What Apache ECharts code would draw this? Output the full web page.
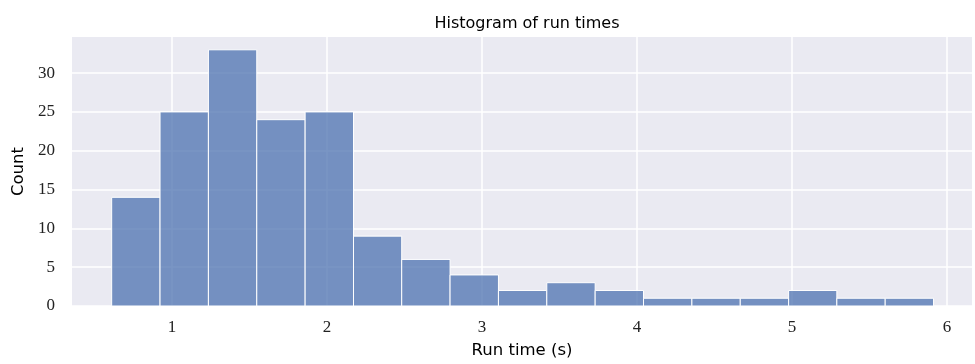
<!DOCTYPE html>
<html><head><meta charset="utf-8">
<script src="https://cdn.jsdelivr.net/npm/echarts@6/dist/echarts.min.js"></script>
<style>html,body{margin:0;padding:0;background:#fff}#c{width:975px;height:364px}</style>
</head><body><div id="c"></div>
<script>
const binEdges = [0.611, 0.923, 1.235, 1.547, 1.859, 2.171, 2.482, 2.794, 3.106, 3.418, 3.73, 4.042, 4.354, 4.666, 4.978, 5.289, 5.601, 5.913];
const counts = [14, 25, 33, 24, 25, 9, 6, 4, 2, 3, 2, 1, 1, 1, 2, 1, 1];
const xTicks = [1, 2, 3, 4, 5, 6];
const yTicks = [0, 5, 10, 15, 20, 25, 30];
const titleText = 'Histogram of run times';
const xLabel = 'Run time (s)';
const yLabel = 'Count';

const data = counts.map((c, i) => [binEdges[i], binEdges[i + 1], c]);
const chart = echarts.init(document.getElementById('c'), null, {renderer: 'canvas'});
const serif = 'Liberation Serif';
const sans = 'DejaVu Sans';
chart.setOption({
  animation: false,
  backgroundColor: '#fff',
  title: {text: titleText, left: 522, top: 11, textAlign: 'center',
    textStyle: {fontFamily: sans, fontSize: 16, fontWeight: 'normal', color: '#000'}},
  grid: {left: 72, right: 3, top: 37, bottom: 58, show: true, backgroundColor: '#eaeaf2', borderWidth: 0},
  xAxis: {
    type: 'value', min: 0.355, max: 6.161,
    name: xLabel, nameLocation: 'middle', nameGap: 36,
    nameTextStyle: {fontFamily: sans, fontSize: 16.5, color: '#000'},
    axisLine: {show: false},
    axisTick: {show: false, customValues: xTicks},
    axisLabel: {customValues: xTicks, fontFamily: serif, fontSize: 17, color: '#222', margin: 13},
    splitLine: {show: true, lineStyle: {color: '#fff', width: 1.5}}
  },
  yAxis: {
    type: 'value', min: 0, max: 34.65,
    name: yLabel, nameLocation: 'middle', nameGap: 42,
    nameTextStyle: {fontFamily: sans, fontSize: 16.5, color: '#000'},
    axisLine: {show: false},
    axisTick: {show: false, customValues: yTicks},
    axisLabel: {customValues: yTicks, fontFamily: serif, fontSize: 17, color: '#222', margin: 17},
    splitLine: {show: true, lineStyle: {color: '#fff', width: 1.5}}
  },
  series: [{
    type: 'custom',
    data: data,
    encode: {x: [0, 1], y: 2},
    renderItem: function (params, api) {
      const p0 = api.coord([api.value(0), 0]);
      const p1 = api.coord([api.value(1), api.value(2)]);
      return {
        type: 'rect',
        shape: {x: p0[0], y: p1[1], width: p1[0] - p0[0], height: p0[1] - p1[1]},
        style: {fill: 'rgba(76,114,176,0.75)', stroke: '#fff', lineWidth: 1}
      };
    }
  }]
});
</script></body></html>
